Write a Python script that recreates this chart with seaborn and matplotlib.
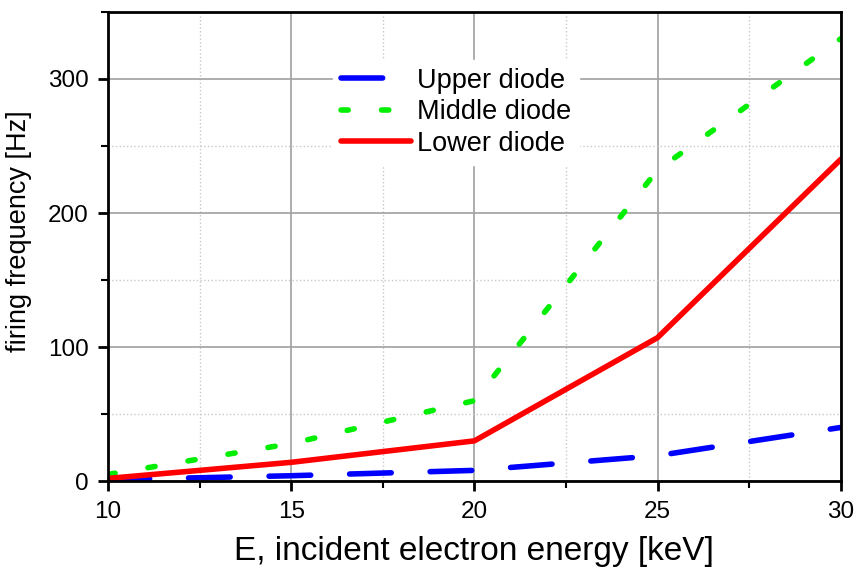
import seaborn as sns
import matplotlib.pyplot as plt
import pandas as pd
from matplotlib.ticker import MultipleLocator

# Data
energy = [10, 15, 20, 25, 30]
upper = [1, 4, 8, 19, 40]
middle = [5, 28, 60, 232, 330]
lower = [2, 14, 30, 107, 240]
series_names = ["Upper diode", "Middle diode", "Lower diode"]

df = pd.DataFrame({"energy": energy * 3,
                   "freq": upper + middle + lower,
                   "diode": [n for n in series_names for _ in energy]})

sns.set_style("ticks")
plt.rcParams['font.family'] = ['Liberation Sans', 'DejaVu Sans']
plt.rcParams['text.color'] = 'black'
plt.rcParams['xtick.color'] = 'black'
plt.rcParams['ytick.color'] = 'black'
plt.rcParams['axes.labelcolor'] = 'black'

fig = plt.figure(figsize=(8.57, 5.68), dpi=100)
ax = fig.add_axes([0.126, 0.153, 0.855, 0.826])

styles = {
    "Upper diode": dict(color="#0000ff", dashes=(7.5, 7)),
    "Middle diode": dict(color="#00ee00", dashes=(1.3, 6)),
    "Lower diode": dict(color="#ff0000", dashes=()),
}
for name in series_names:
    sub = df[df["diode"] == name]
    st = styles[name]
    sns.lineplot(x="energy", y="freq", data=sub, ax=ax, color=st["color"],
                 linewidth=4, label=name)
    ln = ax.get_lines()[-1]
    if st["dashes"]:
        ln.set_dashes(st["dashes"])
        ln.set_dash_capstyle("round")

ax.set_xlim(10, 30)
ax.set_ylim(0, 350)
ax.xaxis.set_major_locator(MultipleLocator(5))
ax.xaxis.set_minor_locator(MultipleLocator(2.5))
ax.yaxis.set_major_locator(MultipleLocator(100))
ax.yaxis.set_minor_locator(MultipleLocator(50))
ax.grid(which="major", color="#a0a0a0", linewidth=1.2, linestyle="-")
ax.grid(which="minor", color="#c8c8c8", linewidth=1, linestyle=":")
ax.set_axisbelow(True)
for sp in ax.spines.values():
    sp.set_visible(True)
    sp.set_linewidth(2)
    sp.set_color("black")
ax.tick_params(which="major", direction="out", length=7, width=2, labelsize=17.5, pad=7)
ax.tick_params(which="minor", direction="out", length=5, width=1.5)

ax.set_xlabel("E, incident electron energy [keV]", fontsize=24, labelpad=10)
ax.set_ylabel("firing frequency [Hz]", fontsize=19.5)
ax.yaxis.set_label_coords(-0.104, 0.533)

leg = ax.legend(loc="upper left", bbox_to_anchor=(0.307, 0.898), frameon=True,
                fontsize=19.5, handlelength=2.6, handletextpad=0.2,
                borderpad=0.3, labelspacing=0.2, fancybox=False, borderaxespad=0)
leg.get_frame().set_edgecolor("white")
leg.get_frame().set_facecolor("white")
leg.get_frame().set_alpha(1)

fig.savefig("out.png", dpi=100)
